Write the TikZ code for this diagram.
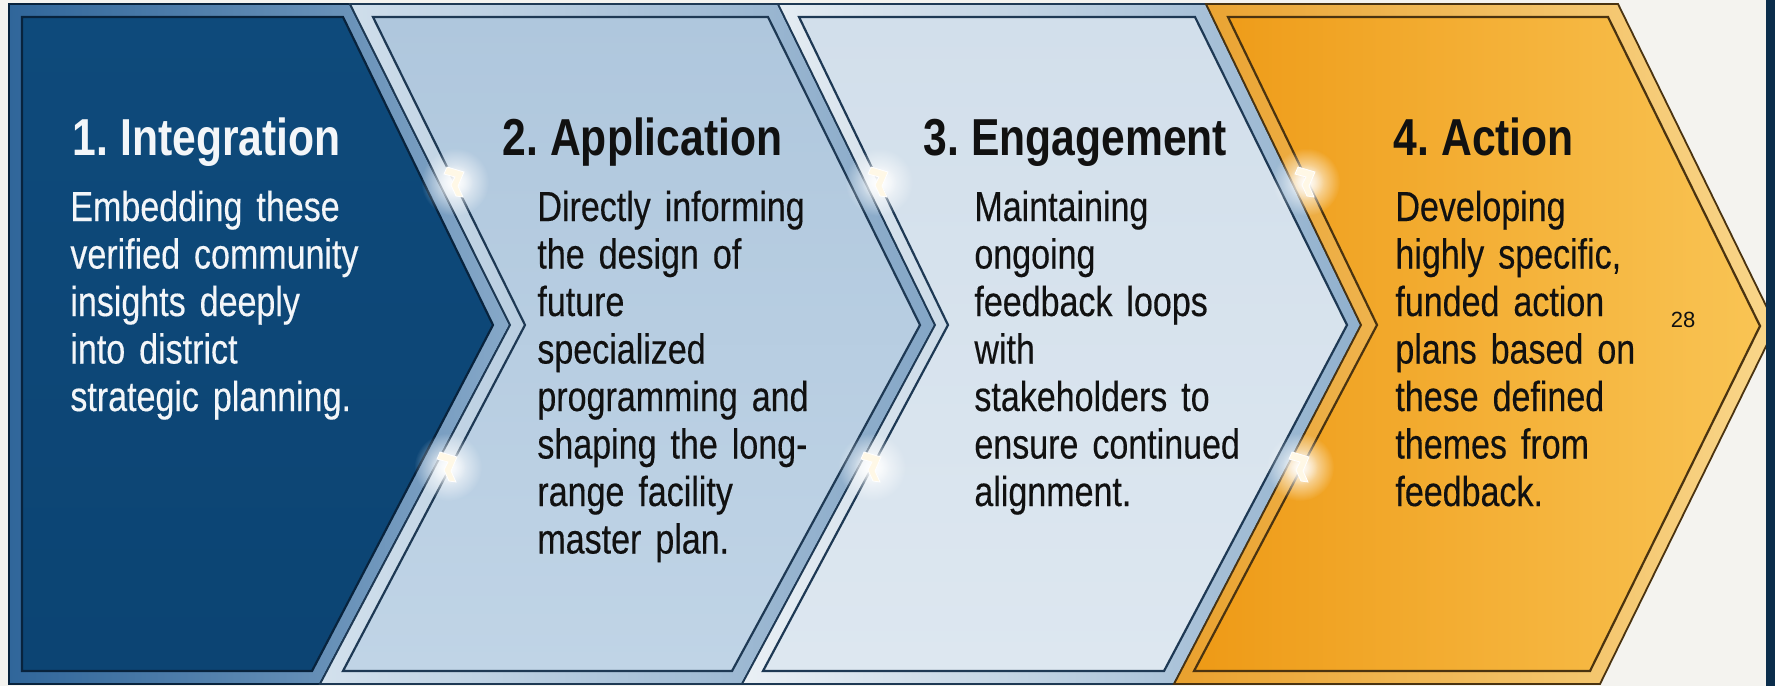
\documentclass[tikz,border=0pt]{standalone}
\usepackage{fontspec}
\setmainfont{Liberation Sans}
\newfontfamily\condfont{Liberation Sans}[FakeStretch=0.81, WordSpace=0.6, FakeBold=0.3]
\newfontfamily\condtitle{Liberation Sans}[FakeStretch=0.82, WordSpace=0.7]
\usetikzlibrary{fadings}
\definecolor{bgc}{HTML}{F4F3EF}
\definecolor{stripc}{HTML}{0B2D4B}
\definecolor{navyp}{HTML}{0E4A7B}
\definecolor{navyq}{HTML}{0C4473}
\definecolor{navyd}{HTML}{08233D}
\definecolor{fr1a}{HTML}{30669A}
\definecolor{fr1b}{HTML}{86A8C8}
\definecolor{fr2a}{HTML}{D3E1ED}
\definecolor{fr2b}{HTML}{84A6C6}
\definecolor{p2a}{HTML}{AFC7DD}
\definecolor{p2b}{HTML}{C0D4E6}
\definecolor{fr3a}{HTML}{EAF0F5}
\definecolor{fr3b}{HTML}{90B0CD}
\definecolor{p3a}{HTML}{D2DFEB}
\definecolor{p3b}{HTML}{DDE7F0}
\definecolor{ln2}{HTML}{1E3954}
\definecolor{fr4a}{HTML}{E9A12E}
\definecolor{fr4b}{HTML}{F9D68A}
\definecolor{p4a}{HTML}{EE9A16}
\definecolor{p4b}{HTML}{F9C454}
\definecolor{ln4}{HTML}{4A3310}
\definecolor{txtd}{HTML}{111111}
\definecolor{txtw}{HTML}{F3F6F9}
\definecolor{glintc}{HTML}{FFF8E6}
\tikzfading[name=glowfade, inner color=transparent!0, outer color=transparent!100]
\begin{document}
\begin{tikzpicture}[x=0.5pt,y=-0.5pt,
  titletext/.style={anchor=base west, inner sep=0pt, font=\condtitle\bfseries\fontsize{26}{30}\selectfont},
  bodytext/.style={anchor=base west, inner sep=0pt, align=left, text width=220pt, font=\condfont\fontsize{21}{23.75}\selectfont},
  outerline/.style={line width=0.9pt, line join=miter},
  innerline/.style={line width=1.1pt, line join=miter},
  glint/.pic={
    \fill[white, path fading=glowfade] (0,0) circle (17pt);
    \fill[white, opacity=0.6, path fading=glowfade] (0,0) circle (9pt);
    \fill[glintc, draw=white, line width=0.4pt, line join=miter]
      (-8,-15) -- (9,-10) -- (3,4) -- (8,15) -- (1,14) -- (-4,3) -- (0,-5) -- (-11,-8) -- cycle;
  }]
\useasboundingbox (0,0) rectangle (1775,686);
\fill[bgc] (0,0) rectangle (1775,686);

% chevron 1
\shade[left color=fr1a, right color=fr1b, draw=navyd, outerline]
  (9,4) -- (350,4) -- (510,325) -- (320,684) -- (9,684) -- cycle;
\shade[top color=navyp, bottom color=navyq, draw=navyd, innerline]
  (22,17) -- (343,17) -- (493,325) -- (312,671) -- (22,671) -- cycle;

% chevron 2
\shade[left color=fr2a, right color=fr2b, draw=ln2, outerline]
  (350,4) -- (778,4) -- (935,325) -- (742,684) -- (320,684) -- (510,325) -- cycle;
\shade[top color=p2a, bottom color=p2b, draw=ln2, innerline]
  (373,17) -- (768,17) -- (920,325) -- (732,671) -- (343,671) -- (525,325) -- cycle;

% chevron 3
\shade[left color=fr3a, right color=fr3b, draw=ln2, outerline]
  (778,4) -- (1206,4) -- (1361,325) -- (1174,684) -- (742,684) -- (935,325) -- cycle;
\shade[top color=p3a, bottom color=p3b, draw=ln2, innerline]
  (799,17) -- (1195,17) -- (1347,325) -- (1164,671) -- (763,671) -- (948,325) -- cycle;

% chevron 4
\shade[left color=fr4a, right color=fr4b, draw=ln4, outerline]
  (1206,4) -- (1618,4) -- (1776,326) -- (1600,684) -- (1174,684) -- (1361,325) -- cycle;
\shade[left color=p4a, right color=p4b, draw=ln4, innerline]
  (1228,17) -- (1608,17) -- (1760,326) -- (1590,671) -- (1194,671) -- (1377,325) -- cycle;

% glints
\pic at (455,182) {glint};
\pic at (448,467) {glint};
\pic at (879,182) {glint};
\pic at (872,467) {glint};
\pic at (1306,182) {glint};
\pic at (1300,467) {glint};

% right strip
\fill[stripc] (1766,0) rectangle (1775,686);

% texts
\node[titletext, text=txtw] (t1) at (72,155) {1. Integration};
\node[bodytext, text=txtw] (b1) at (70,221) {Embedding these\\verified community\\insights deeply\\into district\\strategic planning.};

\node[titletext, text=txtd] (t2) at (502,155) {2. Application};
\node[bodytext, text=txtd] (b2) at (537,221) {Directly informing\\the design of\\future\\specialized\\programming and\\shaping the long-\\range facility\\master plan.};

\node[titletext, text=txtd] (t3) at (923,155) {3. Engagement};
\node[bodytext, text=txtd] (b3) at (974,221) {Maintaining\\ongoing\\feedback loops\\with\\stakeholders to\\ensure continued\\alignment.};

\node[titletext, text=txtd] (t4) at (1393,155) {4. Action};
\node[bodytext, text=txtd] (b4) at (1395,221) {Developing\\highly specific,\\funded action\\plans based on\\these defined\\themes from\\feedback.};

\node[anchor=center, inner sep=0pt, font=\fontsize{11}{13}\selectfont, text=txtd] (pg) at (1683,320) {28};
\end{tikzpicture}
\end{document}
